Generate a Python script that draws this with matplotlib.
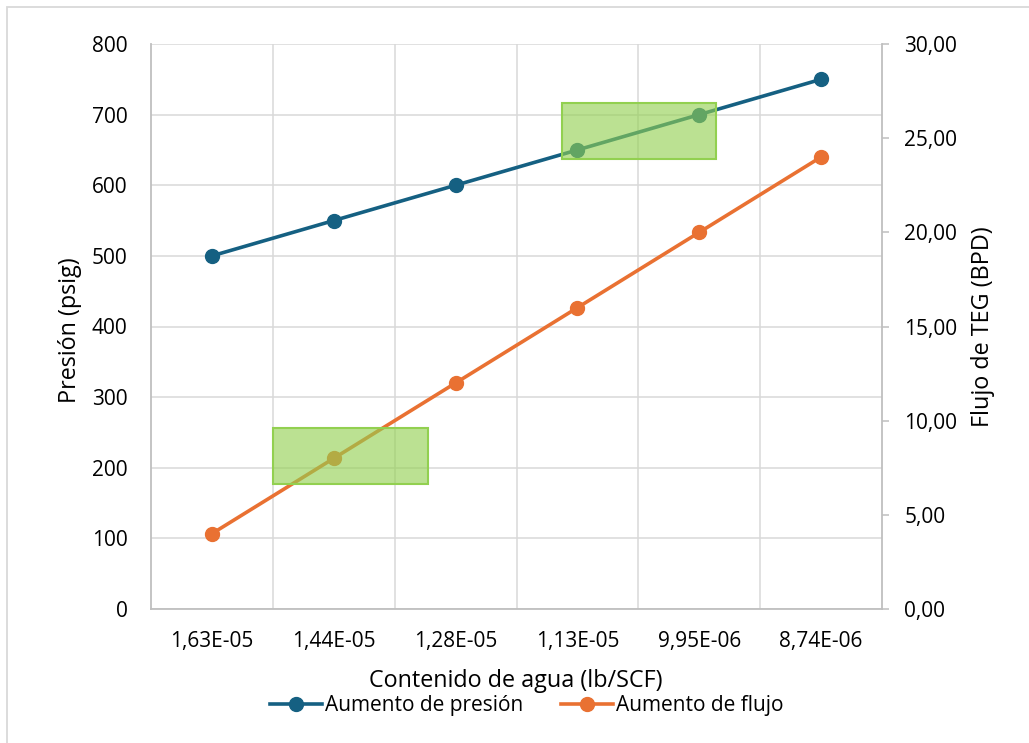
#!/usr/bin/env python3
"""Presión y flujo de TEG vs contenido de agua."""

import matplotlib
matplotlib.use("Agg")
import matplotlib.pyplot as plt
from matplotlib import font_manager
from matplotlib.patches import Rectangle
from matplotlib.lines import Line2D

categories = ["1,63E-05", "1,44E-05", "1,28E-05", "1,13E-05", "9,95E-06", "8,74E-06"]
presion = [500, 550, 600, 650, 700, 750]
flujo = [4, 8, 12, 16, 20, 24]

# highlight boxes: (x0, x1) in category index, (y0, y1) in psig
box_x = [(0.5, 1.775), (2.876, 4.14)]
box_y = [(177, 256), (637, 717)]

BLUE = "#156082"
ORANGE = "#E97132"
GREEN = "#92D050"
GRID = "#d9d9d9"

names = {f.name for f in font_manager.fontManager.ttflist}
main_font = "Open Sans" if "Open Sans" in names else "DejaVu Sans"
plt.rcParams["font.family"] = [main_font, "DejaVu Sans"]

fig = plt.figure(figsize=(10.29, 7.43), dpi=100)
ax = fig.add_axes([151 / 1029, 1 - 609 / 743, 731 / 1029, 565 / 743])
ax2 = ax.twinx()

x = list(range(len(categories)))

ax.set_xlim(-0.5, len(categories) - 0.5)
ax.set_ylim(0, 800)
ax.set_yticks(range(0, 801, 100))
ax2.set_ylim(0, 30)
ax2.set_yticks(range(0, 31, 5))
ax2.set_yticklabels([f"{v:.2f}".replace(".", ",") for v in range(0, 31, 5)])

ax.set_xticks(x)
ax.set_xticklabels(categories, fontsize=15)
ax.set_xticks([i + 0.5 for i in x[:-1]], minor=True)

ax.grid(False)
ax.yaxis.grid(True, color=GRID, linewidth=1.1)
ax.xaxis.grid(True, which="minor", color=GRID, linewidth=1.1)
ax.set_axisbelow(True)

for a in (ax, ax2):
    for s in a.spines.values():
        s.set_visible(False)
ax.spines["left"].set_visible(True)
ax.spines["bottom"].set_visible(True)
ax2.spines["right"].set_visible(True)
for s in (ax.spines["left"], ax.spines["bottom"], ax2.spines["right"]):
    s.set_color("#bfbfbf")
    s.set_linewidth(1.3)

ax.tick_params(axis="y", length=0, pad=17, labelsize=15)
ax.tick_params(axis="x", which="both", length=0, pad=16)
ax2.tick_params(axis="y", length=5, width=1.1, color="#bfbfbf", pad=11, labelsize=15)

ax.plot(x, presion, color=BLUE, linewidth=2.6, marker="o", markersize=10,
        zorder=3, label="Aumento de presión")
ax2.plot(x, flujo, color=ORANGE, linewidth=2.6, marker="o", markersize=10,
         zorder=3, label="Aumento de flujo")

ax2.set_zorder(ax.get_zorder() + 1)
ax2.patch.set_visible(False)

for (x0, x1), (y0, y1) in zip(box_x, box_y):
    # box drawn in left-axis data coords but on top of both series
    rect = Rectangle((x0, y0), x1 - x0, y1 - y0,
                     transform=ax.transData, facecolor=GREEN, alpha=0.62,
                     edgecolor="none", zorder=10)
    edge = Rectangle((x0, y0), x1 - x0, y1 - y0,
                     transform=ax.transData, facecolor="none",
                     edgecolor=GREEN, linewidth=1.5, zorder=11)
    ax2.add_patch(rect)
    ax2.add_patch(edge)

fig.text(516 / 1029, 1 - 681 / 743, "Contenido de agua (lb/SCF)",
         ha="center", va="center", fontsize=16.8)
fig.text(70 / 1029, 1 - 330 / 743, "Presión (psig)", rotation=90,
         ha="center", va="center", fontsize=16.8)
fig.text(983 / 1029, 1 - 327 / 743, "Flujo de TEG (BPD)", rotation=90,
         ha="center", va="center", fontsize=16.8)

handles = [
    Line2D([], [], color=BLUE, linewidth=2.6, marker="o", markersize=10),
    Line2D([], [], color=ORANGE, linewidth=2.6, marker="o", markersize=10),
]
fig.legend(handles, ["Aumento de presión", "Aumento de flujo"],
           loc="center", bbox_to_anchor=(527 / 1029, 1 - 706 / 743), ncol=2,
           frameon=False, handlelength=2.5, handletextpad=0.15,
           columnspacing=1.8, prop={"size": 15})

# chart area border (only top/left visible in the crop)
fig.patches.append(Rectangle((7 / 1029, -0.01), 1.05, 1 - 7 / 743 + 0.01,
                             transform=fig.transFigure, facecolor="none",
                             edgecolor="#d9d9d9", linewidth=1.3))

fig.savefig("out.png", dpi=100)
